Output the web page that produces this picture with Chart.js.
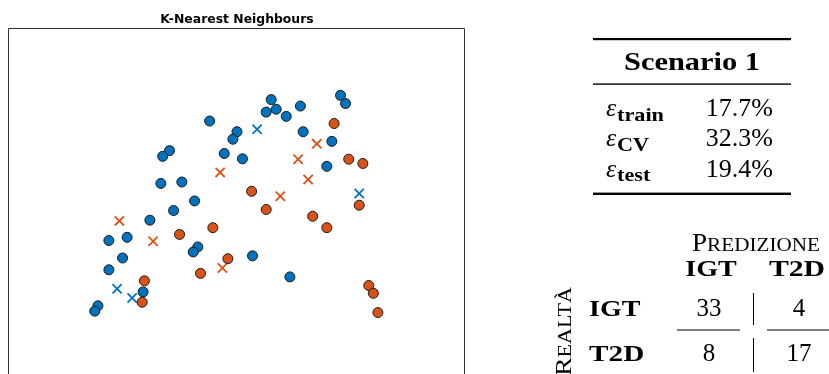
<!DOCTYPE html>
<html>
<head>
<meta charset="utf-8">
<script src="https://cdn.jsdelivr.net/npm/chart.js@4.4.1/dist/chart.umd.min.js"></script>
<style>
  html, body { margin: 0; padding: 0; background: #fff; overflow: hidden; width: 829px; height: 374px; }
  #wrap { position: absolute; left: 0; top: 0; width: 829px; height: 400px; }
</style>
</head>
<body>
<div id="wrap"><canvas id="knn" width="829" height="400"></canvas></div>
<script>
// Test samples in the 2-D feature space, split by true class and predicted class.
const igtPredIgt = [
  [5.75, 8.00], [7.27, 8.12], [7.38, 7.89], [5.64, 7.65], [5.86, 7.73], [6.08, 7.53],
  [6.39, 7.82], [4.40, 7.40], [5.00, 7.10], [4.91, 6.89], [6.45, 7.10], [7.08, 6.83],
  [3.52, 6.57], [3.37, 6.41], [4.72, 6.49], [5.12, 6.34], [6.97, 6.13], [3.33, 5.65],
  [3.79, 5.69], [4.07, 5.16], [3.61, 4.89], [3.09, 4.62], [2.19, 4.05], [2.59, 4.14],
  [4.14, 3.87], [4.04, 3.73], [2.49, 3.56], [2.19, 3.23], [5.34, 3.62], [6.16, 3.03],
  [2.94, 2.61], [1.95, 2.22], [1.88, 2.07]
];
const t2dPredT2d = [
  [7.13, 7.33], [7.45, 6.33], [7.76, 6.21], [5.32, 5.43], [5.64, 4.92], [6.66, 4.73],
  [6.97, 4.41], [7.68, 5.04], [4.47, 4.41], [3.74, 4.22], [4.80, 3.54], [4.20, 3.13],
  [2.97, 2.92], [2.92, 2.32], [7.89, 2.79], [7.99, 2.57], [8.09, 2.03]
];
const igtPredT2d = [[5.44, 7.17], [7.68, 5.37], [2.37, 2.70], [2.70, 2.44]];
const t2dPredIgt = [
  [6.75, 6.76], [6.34, 6.33], [6.56, 5.76], [4.63, 5.96], [5.95, 5.29],
  [2.42, 4.60], [3.16, 4.03], [4.68, 3.28]
];

// Error summary
const scenarioName = 'Scenario 1';
const errorKeys = ['train', 'CV', 'test'];
const errorRates = [17.7, 32.3, 19.4];

// Confusion matrix (rows: true class, columns: predicted class)
const classNames = ['IGT', 'T2D'];
const confusion = [[33, 4], [8, 17]];
const predLabel = 'Predizione';
const trueLabel = 'Realtà';

const BLUE = '#0072BD';
const ORANGE = '#D95319';
const toPts = arr => arr.map(([x, y]) => ({ x, y }));

const SERIF = '"Liberation Serif", "Times New Roman", serif';
const BX = 1.17; // widen bold serif toward an extended bold face

function drawText(ctx, str, x, y, font, align, sx) {
  sx = sx || 1;
  ctx.save();
  ctx.font = font;
  ctx.textBaseline = 'alphabetic';
  ctx.textAlign = 'left';
  const w = ctx.measureText(str).width * sx;
  const left = align === 'center' ? x - w / 2 : align === 'right' ? x - w : x;
  ctx.translate(left, y);
  ctx.scale(sx, 1);
  ctx.fillText(str, 0, 0);
  ctx.restore();
  return w;
}

// Small-caps word: first letter full size, the rest as reduced capitals, fitted to a width.
function drawSmallCaps(ctx, str, x, y, big, small, width) {
  const first = str[0].toUpperCase();
  const rest = str.slice(1).toUpperCase();
  ctx.save();
  ctx.font = big + 'px ' + SERIF;
  const w1 = ctx.measureText(first).width;
  ctx.font = small + 'px ' + SERIF;
  const w2 = ctx.measureText(rest).width;
  const sx = width ? width / (w1 + w2) : 1;
  ctx.translate(x, y);
  ctx.scale(sx, 1);
  ctx.textBaseline = 'alphabetic';
  ctx.textAlign = 'left';
  ctx.font = big + 'px ' + SERIF;
  ctx.fillText(first, 0, 0);
  ctx.font = small + 'px ' + SERIF;
  ctx.fillText(rest, w1, 0);
  ctx.restore();
}

const framePlugin = {
  id: 'frame',
  beforeDatasetsDraw(chart) {
    const { ctx, chartArea: a } = chart;
    ctx.save();
    ctx.strokeStyle = '#333';
    ctx.lineWidth = 1;
    const l = Math.round(a.left) - 0.5, r = Math.round(a.right) - 0.5, t = Math.round(a.top) + 0.5;
    ctx.beginPath();
    ctx.moveTo(l, a.bottom + 20);
    ctx.lineTo(l, t);
    ctx.lineTo(r, t);
    ctx.lineTo(r, a.bottom + 20);
    ctx.stroke();
    ctx.restore();
  }
};

const tablesPlugin = {
  id: 'tables',
  afterDraw(chart) {
    const ctx = chart.ctx;
    ctx.save();
    ctx.fillStyle = '#000';

    // ---- error table (booktabs style) ----
    const tl = 593, tw = 198;
    ctx.fillRect(tl, 38, tw, 2.2);
    ctx.fillRect(tl, 83.4, tw, 1.4);
    ctx.fillRect(tl, 192.6, tw, 2.4);
    drawText(ctx, scenarioName, tl + tw / 2, 69.5, 'bold 26px ' + SERIF, 'center', BX);
    const rowBase = [116, 146, 176.5];
    errorKeys.forEach((k, i) => {
      const yb = rowBase[i];
      drawText(ctx, '\u03B5', 606, yb, 'italic 26px ' + SERIF, 'left');
      drawText(ctx, k, 617, yb + 4.5, 'bold 19px ' + SERIF, 'left', BX);
      drawText(ctx, errorRates[i].toFixed(1) + '%', 773, yb, '26px ' + SERIF, 'right');
    });

    // ---- confusion matrix ----
    drawSmallCaps(ctx, predLabel, 692, 251, 25, 19.5, 128);
    const colX = [709, 799];
    const headX = [711, 797];
    classNames.forEach((c, j) => drawText(ctx, c, headX[j], 276, 'bold 24px ' + SERIF, 'center', j ? 1.24 : BX));
    const rowY = [315.5, 360.5];
    classNames.forEach((c, i) => {
      drawText(ctx, c, 589, rowY[i], 'bold 24px ' + SERIF, 'left', i ? 1.22 : BX);
      confusion[i].forEach((v, j) => drawText(ctx, String(v), colX[j], rowY[i], '25px ' + SERIF, 'center'));
    });
    ctx.fillRect(753, 293, 1, 32);
    ctx.fillRect(753, 338, 1, 34);
    ctx.fillRect(677, 329.5, 63, 1);
    ctx.fillRect(767, 329.5, 62, 1);

    // vertical label for the true class
    ctx.save();
    ctx.translate(571, 376);
    ctx.rotate(-Math.PI / 2);
    drawSmallCaps(ctx, trueLabel, 0, 0, 24, 19, 89);
    ctx.restore();

    ctx.restore();
  }
};

const circle = (data, color) => ({
  data: toPts(data),
  pointStyle: 'circle',
  pointRadius: 5,
  pointBackgroundColor: color,
  pointBorderColor: '#1a1a1a',
  pointBorderWidth: 1
});
const cross = (data, color) => ({
  data: toPts(data),
  pointStyle: 'crossRot',
  pointRadius: 6.5,
  pointBackgroundColor: color,
  pointBorderColor: color,
  pointBorderWidth: 1.8
});

new Chart(document.getElementById('knn'), {
  type: 'scatter',
  data: {
    datasets: [
      circle(igtPredIgt, BLUE),
      circle(t2dPredT2d, ORANGE),
      cross(igtPredT2d, BLUE),
      cross(t2dPredIgt, ORANGE)
    ]
  },
  options: {
    responsive: false,
    animation: false,
    devicePixelRatio: 1,
    layout: { padding: { left: 9, right: 364, top: 0, bottom: 15 } },
    plugins: {
      legend: { display: false },
      tooltip: { enabled: false },
      title: {
        display: true,
        text: 'K-Nearest Neighbours',
        color: '#000',
        font: { family: '"DejaVu Sans", sans-serif', size: 12.4, weight: 'bold' },
        padding: { top: 12, bottom: 1.4 }
      }
    },
    scales: {
      x: { display: false, min: 0, max: 10 },
      y: { display: false, min: 0, max: 10 }
    }
  },
  plugins: [framePlugin, tablesPlugin]
});
</script>
</body>
</html>
